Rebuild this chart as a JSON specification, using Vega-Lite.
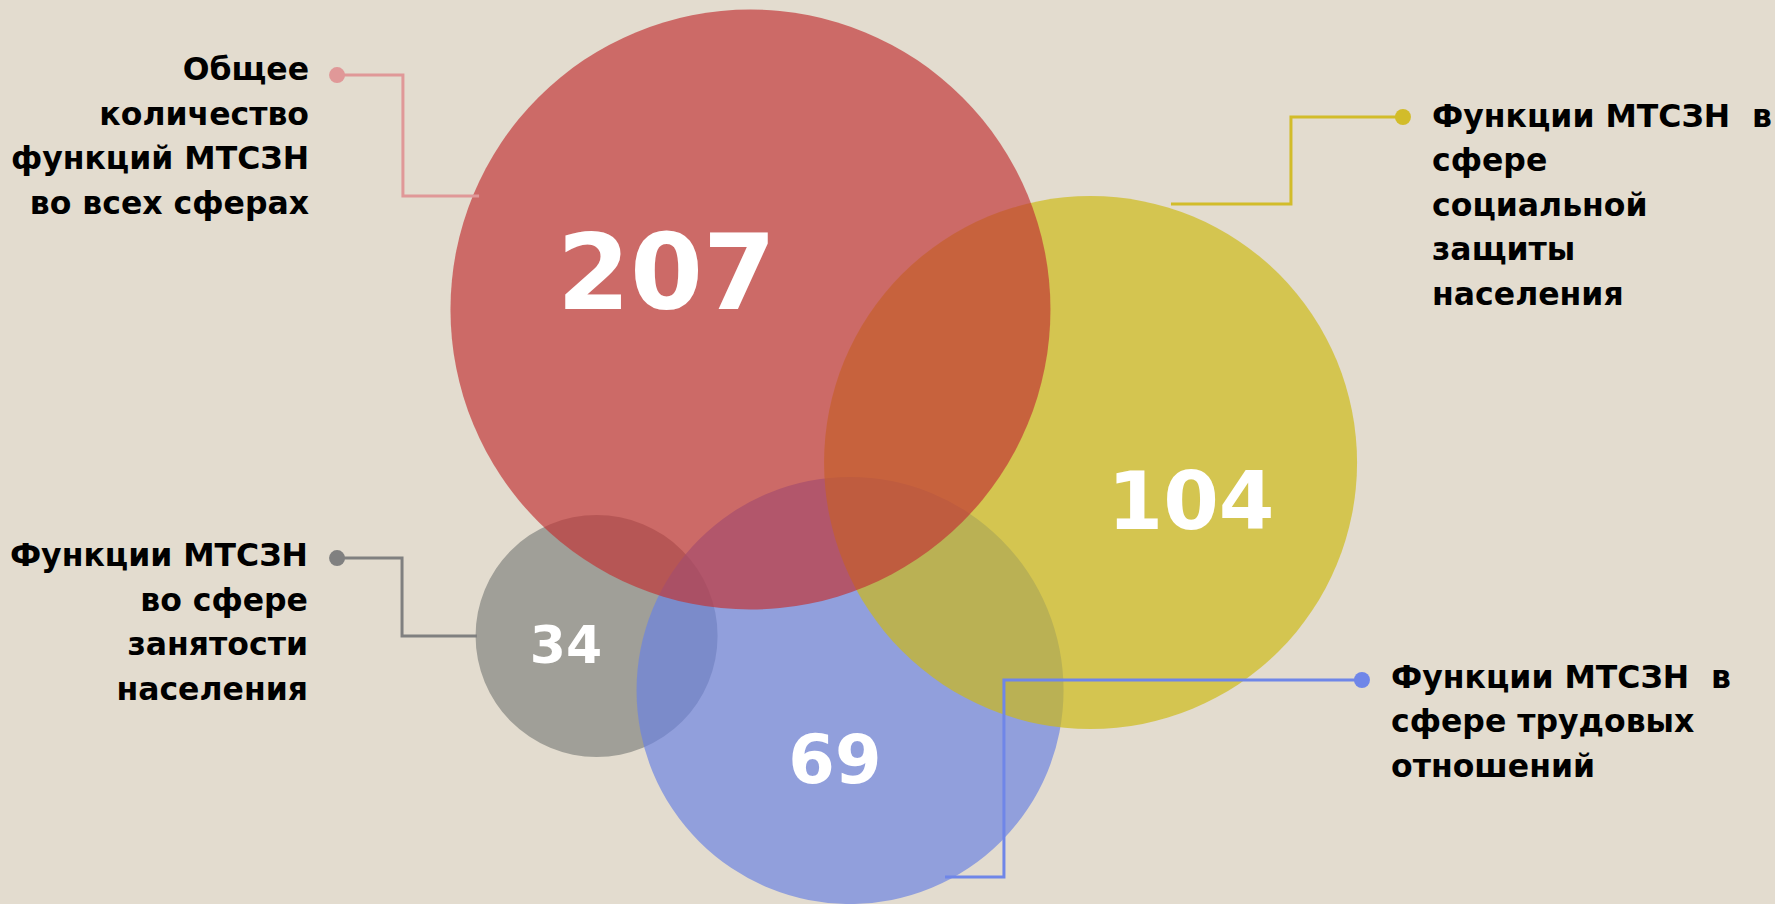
{
  "$schema": "https://vega.github.io/schema/vega-lite/v6.json",
  "width": 1775,
  "height": 904,
  "padding": 0,
  "autosize": {"type": "none"},
  "background": "#E3DCCF",
  "config": {"view": {"stroke": null}},
  "datasets": {
    "circles": [
      {"name": "Занятость", "value": 34, "cx": 33.61, "cy": 35.83, "lx": 31.89, "ly": 37.35},
      {"name": "Трудовые отношения", "value": 69, "cx": 47.89, "cy": 38.9, "lx": 47.04, "ly": 44.11},
      {"name": "Социальная защита", "value": 104, "cx": 61.44, "cy": 26.06, "lx": 67.1, "ly": 29.8},
      {"name": "Все сферы", "value": 207, "cx": 42.28, "cy": 17.44, "lx": 37.55, "ly": 17.41}
    ],
    "connectors": [
      {"name": "Все сферы", "step": 1, "x": 18.99, "y": 4.23},
      {"name": "Все сферы", "step": 2, "x": 22.7, "y": 4.23},
      {"name": "Все сферы", "step": 3, "x": 22.7, "y": 11.04},
      {"name": "Все сферы", "step": 4, "x": 26.99, "y": 11.04},
      {"name": "Социальная защита", "step": 1, "x": 79.04, "y": 6.59},
      {"name": "Социальная защита", "step": 2, "x": 72.73, "y": 6.59},
      {"name": "Социальная защита", "step": 3, "x": 72.73, "y": 11.49},
      {"name": "Социальная защита", "step": 4, "x": 65.97, "y": 11.49},
      {"name": "Занятость", "step": 1, "x": 18.99, "y": 31.44},
      {"name": "Занятость", "step": 2, "x": 22.65, "y": 31.44},
      {"name": "Занятость", "step": 3, "x": 22.65, "y": 35.83},
      {"name": "Занятость", "step": 4, "x": 26.87, "y": 35.83},
      {"name": "Трудовые отношения", "step": 1, "x": 76.73, "y": 38.31},
      {"name": "Трудовые отношения", "step": 2, "x": 56.56, "y": 38.31},
      {"name": "Трудовые отношения", "step": 3, "x": 56.56, "y": 49.41},
      {"name": "Трудовые отношения", "step": 4, "x": 53.24, "y": 49.41}
    ],
    "labels": [
      {"name": "Все сферы", "side": "left", "x": 17.41, "y": 4.51, "text": "Общее\nколичество\nфункций МТСЗН\nво всех сферах"},
      {"name": "Занятость", "side": "left", "x": 17.35, "y": 31.89, "text": "Функции МТСЗН\nво сфере\nзанятости\nнаселения"},
      {"name": "Социальная защита", "side": "right", "x": 80.68, "y": 7.15, "text": "Функции МТСЗН \u00a0в\nсфере\nсоциальной\nзащиты\nнаселения"},
      {"name": "Трудовые отношения", "side": "right", "x": 78.37, "y": 38.76, "text": "Функции МТСЗН \u00a0в\nсфере трудовых\nотношений"}
    ]
  },
  "layer": [
    {
      "data": {"name": "circles"},
      "mark": {"type": "point", "shape": "circle", "filled": true, "opacity": 0.68, "strokeWidth": 0},
      "encoding": {
        "x": {"field": "cx", "type": "quantitative", "scale": {"domain": [0, 100], "nice": false, "zero": false}, "axis": null},
        "y": {"field": "cy", "type": "quantitative", "scale": {"domain": [0, 50.93], "nice": false, "zero": false, "reverse": true}, "axis": null},
        "size": {"field": "value", "type": "quantitative", "scale": {"type": "threshold", "domain": [50, 85, 150], "range": [58564, 182329, 284089, 360000]}, "legend": null},
        "color": {"field": "name", "type": "nominal", "scale": {"domain": ["Все сферы", "Социальная защита", "Трудовые отношения", "Занятость"], "range": ["#C13335", "#CDB913", "#6A82E2", "#80817E"]}, "legend": null}
      }
    },
    {
      "data": {"name": "connectors"},
      "mark": {"type": "line", "strokeWidth": 3, "interpolate": "linear"},
      "encoding": {
        "x": {"field": "x", "type": "quantitative", "scale": {"domain": [0, 100], "nice": false, "zero": false}, "axis": null},
        "y": {"field": "y", "type": "quantitative", "scale": {"domain": [0, 50.93], "nice": false, "zero": false, "reverse": true}, "axis": null},
        "order": {"field": "step", "type": "quantitative"},
        "detail": {"field": "name", "type": "nominal"},
        "stroke": {"field": "name", "type": "nominal", "scale": {"domain": ["Все сферы", "Социальная защита", "Трудовые отношения", "Занятость"], "range": ["#E09898", "#D2BC2A", "#6F86E8", "#808080"]}, "legend": null}
      }
    },
    {
      "data": {"name": "connectors"},
      "transform": [{"filter": "datum.step == 1"}],
      "mark": {"type": "point", "shape": "circle", "filled": true, "opacity": 1, "size": 256, "strokeWidth": 0},
      "encoding": {
        "x": {"field": "x", "type": "quantitative", "scale": {"domain": [0, 100], "nice": false, "zero": false}, "axis": null},
        "y": {"field": "y", "type": "quantitative", "scale": {"domain": [0, 50.93], "nice": false, "zero": false, "reverse": true}, "axis": null},
        "fill": {"field": "name", "type": "nominal", "scale": {"domain": ["Все сферы", "Социальная защита", "Трудовые отношения", "Занятость"], "range": ["#E09898", "#D2BC2A", "#6F86E8", "#808080"]}, "legend": null}
      }
    },
    {
      "data": {"name": "circles"},
      "mark": {"type": "text", "font": "DejaVu Sans", "fontWeight": "bold", "color": "#FFFFFF", "align": "center", "baseline": "alphabetic"},
      "encoding": {
        "x": {"field": "lx", "type": "quantitative", "scale": {"domain": [0, 100], "nice": false, "zero": false}, "axis": null},
        "y": {"field": "ly", "type": "quantitative", "scale": {"domain": [0, 50.93], "nice": false, "zero": false, "reverse": true}, "axis": null},
        "text": {"field": "value", "type": "quantitative"},
        "size": {"field": "value", "type": "quantitative", "scale": {"type": "threshold", "domain": [50, 85, 150], "range": [52, 67, 80, 105]}, "legend": null}
      }
    },
    {
      "data": {"name": "labels"},
      "transform": [{"filter": "datum.side == 'left'"}],
      "mark": {"type": "text", "font": "DejaVu Sans", "fontWeight": "bold", "fontSize": 31.5, "color": "#000000", "align": "right", "baseline": "alphabetic", "lineBreak": "\n", "lineHeight": 44.5},
      "encoding": {
        "x": {"field": "x", "type": "quantitative", "scale": {"domain": [0, 100], "nice": false, "zero": false}, "axis": null},
        "y": {"field": "y", "type": "quantitative", "scale": {"domain": [0, 50.93], "nice": false, "zero": false, "reverse": true}, "axis": null},
        "text": {"field": "text", "type": "nominal"}
      }
    },
    {
      "data": {"name": "labels"},
      "transform": [{"filter": "datum.side == 'right'"}],
      "mark": {"type": "text", "font": "DejaVu Sans", "fontWeight": "bold", "fontSize": 31.5, "color": "#000000", "align": "left", "baseline": "alphabetic", "lineBreak": "\n", "lineHeight": 44.5},
      "encoding": {
        "x": {"field": "x", "type": "quantitative", "scale": {"domain": [0, 100], "nice": false, "zero": false}, "axis": null},
        "y": {"field": "y", "type": "quantitative", "scale": {"domain": [0, 50.93], "nice": false, "zero": false, "reverse": true}, "axis": null},
        "text": {"field": "text", "type": "nominal"}
      }
    }
  ],
  "resolve": {"scale": {"color": "independent", "size": "independent", "fill": "independent", "stroke": "independent"}}
}
